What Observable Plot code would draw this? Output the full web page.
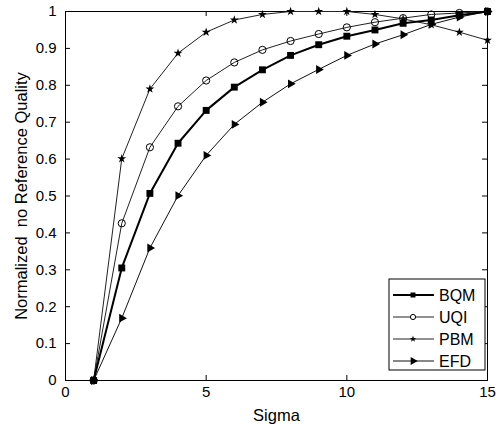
<!DOCTYPE html>
<html>
<head>
<meta charset="utf-8">
<script src="https://cdn.jsdelivr.net/npm/d3@7"></script>
<script src="https://cdn.jsdelivr.net/npm/@observablehq/plot@0.6"></script>
<style>
  html, body { margin: 0; padding: 0; background: #fff; }
  #chart { position: relative; width: 498px; height: 430px; }
</style>
</head>
<body>
<div id="chart"></div>
<script>
const sigma = [1, 2, 3, 4, 5, 6, 7, 8, 9, 10, 11, 12, 13, 14, 15];
const BQM = [0, 0.305, 0.507, 0.643, 0.732, 0.795, 0.842, 0.881, 0.910, 0.933, 0.950, 0.968, 0.977, 0.990, 1];
const UQI = [0, 0.426, 0.632, 0.743, 0.813, 0.862, 0.896, 0.920, 0.939, 0.957, 0.971, 0.982, 0.992, 0.996, 1];
const PBM = [0, 0.601, 0.790, 0.887, 0.944, 0.977, 0.992, 1, 1, 1, 0.992, 0.980, 0.964, 0.944, 0.922];
const EFD = [0, 0.169, 0.359, 0.501, 0.610, 0.694, 0.754, 0.804, 0.843, 0.881, 0.912, 0.937, 0.965, 0.985, 1];
const xTicks = [0, 5, 10, 15];
const yTicks = [0, 0.1, 0.2, 0.3, 0.4, 0.5, 0.6, 0.7, 0.8, 0.9, 1];
const seriesNames = ["BQM", "UQI", "PBM", "EFD"];

const seriesData = {BQM, UQI, PBM, EFD};
const styles = {
  BQM: {stroke: "#000", sw: 2, symbol: "square", fill: "#000", r: 3.9, rotate: 0, lr: 2.8},
  UQI: {stroke: "#222", sw: 1, symbol: "circle", fill: "none", r: 3.6, rotate: 0, lr: 2.6},
  PBM: {stroke: "#222", sw: 1, symbol: "star", fill: "#000", r: 2.8, rotate: 0, lr: 2.1},
  EFD: {stroke: "#111", sw: 1, symbol: "triangle", fill: "#000", r: 3.3, rotate: 90, lr: 3.0}
};
const rows = [];
for (const name of seriesNames) {
  sigma.forEach((s, i) => rows.push({series: name, x: s, y: seriesData[name][i]}));
}

const W = 498, H = 430, mL = 65, mR = 11, mT = 11, mB = 50;
const fw = W - mL - mR, fh = H - mT - mB;

const marks = [
  Plot.frame({stroke: "#000", strokeWidth: 1}),
  Plot.tickX(xTicks, {x: d => d, insetTop: fh - 5, stroke: "#000"}),
  Plot.tickX(xTicks, {x: d => d, insetBottom: fh - 5, stroke: "#000"}),
  Plot.tickY(yTicks, {y: d => d, insetRight: fw - 5, stroke: "#000"}),
  Plot.tickY(yTicks, {y: d => d, insetLeft: fw - 5, stroke: "#000"}),
  Plot.axisX(xTicks, {tickSize: 0, tickPadding: 6, fontSize: 15, label: "Sigma", labelAnchor: "center", labelArrow: "none", labelOffset: 40}),
  Plot.axisY(yTicks, {tickSize: 0, tickPadding: 9, fontSize: 15, tickFormat: d => String(d), label: "Normalized\u00a0 no Reference Quality", labelAnchor: "center", labelArrow: "none", labelOffset: 50})
];
for (const name of seriesNames.slice().reverse()) {
  const st = styles[name];
  const d = rows.filter(r => r.series === name);
  marks.push(Plot.line(d, {x: "x", y: "y", stroke: st.stroke, strokeWidth: st.sw}));
  marks.push(Plot.dot(d, {x: "x", y: "y", symbol: () => st.symbol, r: st.r, fill: st.fill,
    stroke: st.fill === "none" ? "#000" : "none", strokeWidth: 1, rotate: st.rotate}));
}

const chart = Plot.plot({
  width: W, height: H,
  marginLeft: mL, marginRight: mR, marginTop: mT, marginBottom: mB,
  x: {domain: [0, 15]},
  y: {domain: [0, 1]},
  symbol: {type: "identity"},
  style: {fontFamily: "'Liberation Sans', Arial, sans-serif", fontSize: "15px", background: "#fff", color: "#000"},
  marks
});
document.getElementById("chart").appendChild(chart);

// axis label font sizes
d3.select(chart).selectAll("g[aria-label='x-axis label'] text, g[aria-label='y-axis label'] text")
  .style("font-size", "16.5px");

// Legend (MATLAB-style box, lower right)
const svg = d3.select(chart);
const lg = svg.append("g").attr("transform", "translate(389,279)");
lg.append("rect").attr("width", 96).attr("height", 91).attr("fill", "#fff").attr("stroke", "#000").attr("stroke-width", 1);
const legSym = {square: d3.symbolSquare, circle: d3.symbolCircle, star: d3.symbolStar, triangle: d3.symbolTriangle};
seriesNames.forEach((name, i) => {
  const st = styles[name];
  const cy = 16 + i * 22;
  const g = lg.append("g").attr("transform", `translate(0,${cy})`);
  g.append("line").attr("x1", 4).attr("x2", 45).attr("y1", 0).attr("y2", 0)
    .attr("stroke", st.stroke).attr("stroke-width", st.sw);
  g.append("path")
    .attr("d", d3.symbol(legSym[st.symbol], Math.PI * st.lr * st.lr)())
    .attr("transform", `translate(24,0) rotate(${st.rotate})`)
    .attr("fill", st.fill === "none" ? "#fff" : st.fill)
    .attr("stroke", st.fill === "none" ? "#000" : "none");
  g.append("text").attr("x", 50).attr("y", 0).attr("dy", "0.35em")
    .attr("text-anchor", "start")
    .attr("font-size", 16).attr("fill", "#000").text(name);
});
</script>
</body>
</html>
